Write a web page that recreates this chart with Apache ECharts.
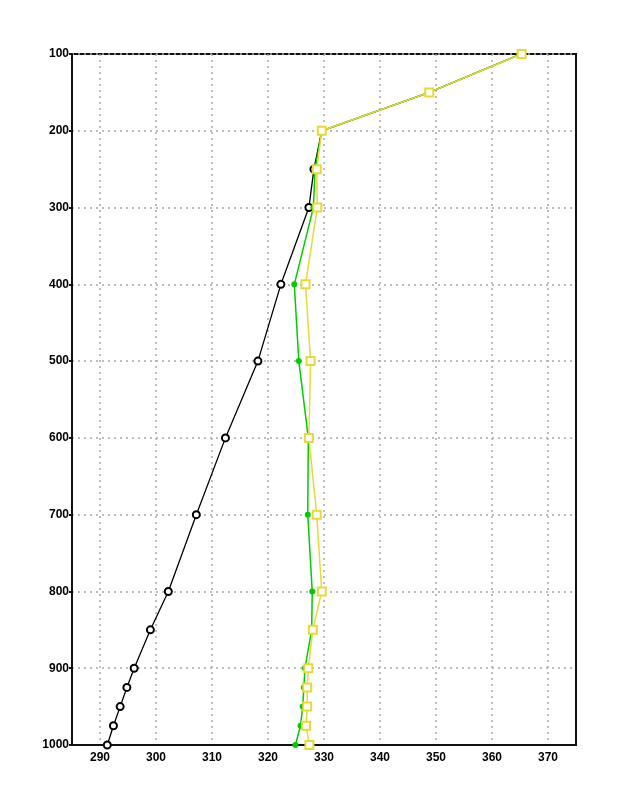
<!DOCTYPE html>
<html>
<head>
<meta charset="utf-8">
<script src="https://cdn.jsdelivr.net/npm/echarts@6/dist/echarts.min.js"></script>
<style>
  html, body { margin: 0; padding: 0; background: #fff; }
  #chart { width: 618px; height: 800px; }
</style>
</head>
<body>
<div id="chart"></div>
<script>
// pressure levels (hPa)
const levels = [100, 150, 200, 250, 300, 400, 500, 600, 700, 800, 850, 900, 925, 950, 975, 1000]
// black profile (circles)
const blackVals = [365.2, 348.8, 329.6, 328.2, 327.3, 322.3, 318.2, 312.4, 307.2, 302.2, 299.0, 296.1, 294.8, 293.6, 292.4, 291.3]
// green profile (dots)
const greenVals = [365.2, 348.8, 329.6, 328.4, 328.1, 324.7, 325.5, 327.2, 327.1, 327.9, 327.8, 326.6, 326.4, 326.2, 325.8, 324.9]
// yellow profile (squares)
const yellowVals = [365.3, 348.8, 329.6, 328.7, 328.8, 326.7, 327.6, 327.3, 328.7, 329.6, 328.0, 327.2, 327.0, 327.0, 326.8, 327.4]

const toPairs = vals => vals.map((v, i) => [v, levels[i]])

const chart = echarts.init(document.getElementById('chart'), null, { renderer: 'canvas' })

const labelFont = {
  color: '#000',
  fontFamily: 'Liberation Sans',
  fontWeight: 'bold',
  fontSize: 12
}

const gridDots = { color: '#a8a8a8', type: [2, 4], width: 1.5 }

chart.setOption({
  animation: false,
  backgroundColor: '#fff',
  grid: {
    left: 72, right: 42, top: 54, bottom: 55,
    show: true, borderColor: '#111', borderWidth: 2
  },
  xAxis: {
    type: 'value',
    min: 285,
    max: 375,
    interval: 5,
    axisLine: { show: true, onZero: false, lineStyle: { color: '#111', width: 2 } },
    axisTick: { show: false },
    axisLabel: Object.assign({
      margin: 7,
      showMinLabel: false,
      showMaxLabel: false,
      formatter: v => (v % 10 === 0 ? String(v) : '')
    }, labelFont),
    splitLine: {
      show: true,
      // ticks every 5 from 285: only draw the ones on multiples of 10
      lineStyle: Object.assign({}, gridDots, { color: ['rgba(0,0,0,0)', '#a8a8a8'] })
    }
  },
  yAxis: {
    type: 'value',
    inverse: true,
    min: 100,
    max: 1000,
    interval: 100,
    axisLine: { show: true, onZero: false, lineStyle: { color: '#111', width: 2 } },
    axisTick: { show: true, length: 3, lineStyle: { color: '#111', width: 2 } },
    axisLabel: Object.assign({ margin: 3, formatter: v => String(v) }, labelFont),
    splitLine: { show: true, lineStyle: gridDots }
  },
  series: [
    {
      name: 'black',
      type: 'line',
      data: toPairs(blackVals),
      symbol: 'emptyCircle',
      symbolSize: 7,
      lineStyle: { color: '#000', width: 1.3 },
      itemStyle: { color: '#000', borderWidth: 1 }
    },
    {
      name: 'green',
      type: 'line',
      data: toPairs(greenVals),
      symbol: 'circle',
      symbolSize: 6,
      lineStyle: { color: '#00cc00', width: 1.5 },
      itemStyle: { color: '#00cc00' }
    },
    {
      name: 'yellow',
      type: 'line',
      data: toPairs(yellowVals),
      symbol: 'emptyRect',
      symbolSize: 8,
      lineStyle: { color: '#e8d838', width: 1.5 },
      itemStyle: { color: '#e8d838', borderWidth: 1.3 }
    }
  ]
})
</script>
</body>
</html>
